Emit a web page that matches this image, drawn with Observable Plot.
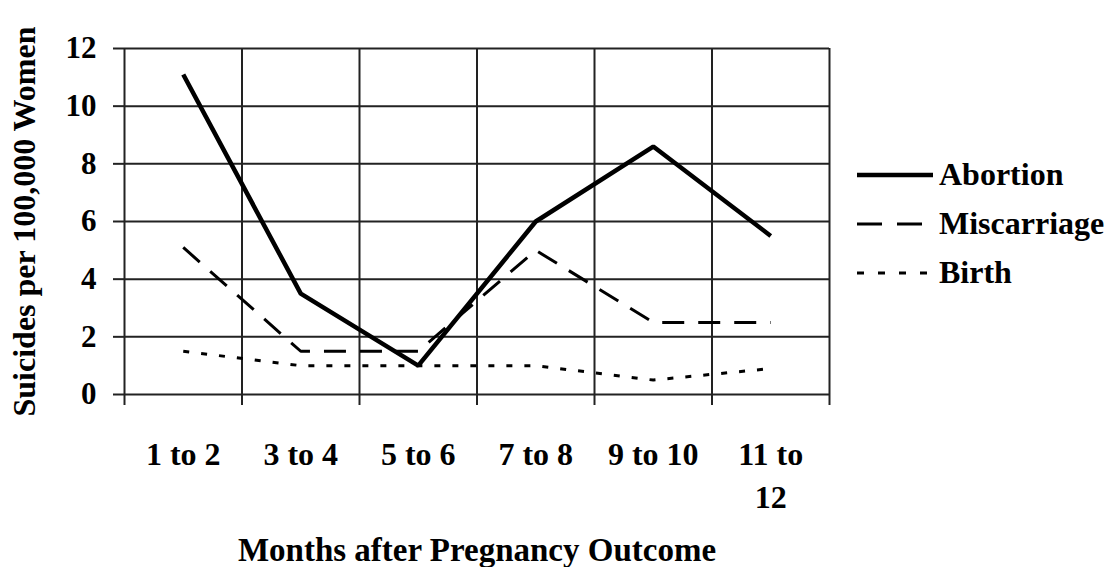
<!DOCTYPE html>
<html>
<head>
<meta charset="utf-8">
<script src="https://cdn.jsdelivr.net/npm/d3@7"></script>
<script src="https://cdn.jsdelivr.net/npm/@observablehq/plot@0.6"></script>
<style>
  html, body { margin: 0; padding: 0; background: #fff; }
  #wrap { position: relative; width: 1119px; height: 567px; font-family: "Liberation Serif", "Times New Roman", serif; font-weight: bold; }
  #legend { position: absolute; left: 857px; top: 150px; font-size: 32px; color: #000; }
  .row { display: flex; align-items: center; height: 49px; }
  .row svg { width: 76px; height: 20px; margin-right: 6px; }
</style>
</head>
<body>
<div id="wrap"></div>
<script>
const categories = ["1 to 2", "3 to 4", "5 to 6", "7 to 8", "9 to 10", "11 to 12"];
const tickLabels = ["1 to 2", "3 to 4", "5 to 6", "7 to 8", "9 to 10", "11 to\n12"];
const abortion = [11.1, 3.5, 1.0, 6.0, 8.6, 5.5];
const miscarriage = [5.1, 1.5, 1.5, 5.0, 2.5, 2.5];
const birth = [1.5, 1.0, 1.0, 1.0, 0.5, 0.9];
const yTicks = [0, 2, 4, 6, 8, 10, 12];
const seriesNames = ["Abortion", "Miscarriage", "Birth"];
const yTitle = "Suicides per 100,000 Women";
const xTitle = "Months after Pregnancy Outcome";

const styles = {
  Abortion: {strokeWidth: 4.5, dash: null},
  Miscarriage: {strokeWidth: 3, dash: "22,14"},
  Birth: {strokeWidth: 3, dash: "6,12"}
};
const seriesData = {Abortion: abortion, Miscarriage: miscarriage, Birth: birth};
const xBoundaries = d3.range(categories.length + 1);
const gridColor = "#222";

const lineMarks = seriesNames.map(name => Plot.line(seriesData[name], {
  x: (d, i) => i + 0.5,
  y: d => d,
  stroke: "#000",
  strokeWidth: styles[name].strokeWidth,
  strokeDasharray: styles[name].dash,
  strokeLinejoin: "miter",
  strokeLinecap: "butt"
}));

const chart = Plot.plot({
  width: 1119,
  height: 567,
  marginLeft: 124,
  marginRight: 290,
  marginTop: 48,
  marginBottom: 173,
  style: {fontFamily: "'Liberation Serif', 'Times New Roman', serif", fontSize: "32px", fontWeight: "bold", color: "#000", background: "#fff", overflow: "visible"},
  x: {domain: [0, categories.length], axis: null},
  y: {domain: [0, 12], axis: null},
  marks: [
    Plot.gridY(yTicks, {stroke: gridColor, strokeOpacity: 1, strokeWidth: 2}),
    Plot.gridX(xBoundaries, {stroke: gridColor, strokeOpacity: 1, strokeWidth: 2}),
    Plot.axisY(yTicks, {tickSize: 11, tickPadding: 17, tickFormat: d => String(d), stroke: gridColor, strokeWidth: 2, label: null, fontSize: 31}),
    Plot.axisX(xBoundaries, {tickSize: 11, tickFormat: () => "", stroke: gridColor, strokeWidth: 2, label: null}),
    Plot.text(tickLabels, {
      x: (d, i) => i + 0.5,
      frameAnchor: "bottom",
      lineAnchor: "top",
      dy: 40,
      text: d => d,
      lineHeight: 1.35,
      fill: "#000",
      fontSize: 32
    }),
    Plot.text([xTitle], {frameAnchor: "bottom", dy: 156, text: d => d, lineAnchor: "middle", textAnchor: "middle", fill: "#000", fontSize: 33}),
    Plot.text([yTitle], {frameAnchor: "left", dx: -100, rotate: -90, text: d => d, lineAnchor: "middle", textAnchor: "middle", fill: "#000", fontSize: 32}),
    ...lineMarks
  ]
});

const wrap = document.getElementById("wrap");
wrap.appendChild(chart);

const legend = document.createElement("div");
legend.id = "legend";
seriesNames.forEach(name => {
  const row = document.createElement("div");
  row.className = "row";
  const s = styles[name];
  row.innerHTML = `<svg viewBox="0 0 76 20"><line x1="0" x2="76" y1="10" y2="10" stroke="#000" stroke-width="${s.strokeWidth}" ${s.dash ? `stroke-dasharray="${name === "Birth" ? "7,14" : "25,15"}"` : ""}/></svg><span>${name}</span>`;
  legend.appendChild(row);
});
wrap.appendChild(legend);
</script>
</body>
</html>
